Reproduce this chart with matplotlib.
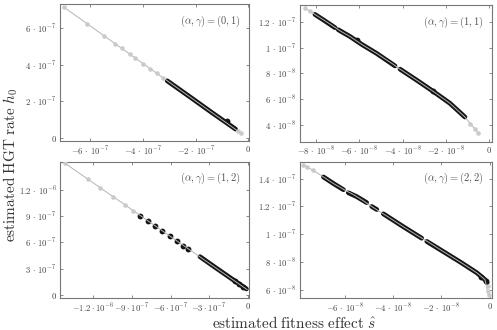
import numpy as np
import matplotlib.pyplot as plt

plt.rcParams['mathtext.fontset'] = 'cm'
nan = np.nan

# --- (alpha, gamma) = (0, 1), values in units of 1e-7
p1_line_s = [-6.99, -0.30]
p1_line_h = [7.11, 0.29]
p1_gray_s = [-6.99, -6.10, -5.47, -5.05, -4.80, -4.48, -4.29, -3.98, -3.72, -3.47, -3.22, -0.38, -0.30]
p1_gray_h = [7.11, 6.20, 5.56, 5.13, 4.88, 4.55, 4.36, 4.04, 3.78, 3.52, 3.27, 0.37, 0.29]
p1_black_s = [-3.08, -2.20, -1.40, -0.49]
p1_black_h = [3.12, 2.23, 1.41, 0.50]
p1_blob_s = [-0.80]
p1_blob_h = [0.95]

# --- (alpha, gamma) = (1, 1), units of 1e-8
p2_line_s = [-8.51, -8.05, -7.35, -6.89, -6.43, -5.89, -5.20, -4.43, -4.12, -3.35, -2.58, -1.81, -1.12, -0.50]
p2_line_h = [13.05, 12.57, 11.82, 11.30, 10.86, 10.25, 9.55, 8.70, 8.33, 7.48, 6.60, 5.68, 4.62, 3.36]
p2_gray_s = [-8.51, -8.30, -0.90, -0.67, -0.50]
p2_gray_h = [13.05, 12.84, 4.05, 3.67, 3.36]
p2_black_s = [-8.05, -7.60, -7.12, nan, -6.97, -6.43, -5.89, -5.20, -4.70, -4.35, nan, -4.12, -3.35, -2.58, -1.81, -1.12]
p2_black_h = [12.57, 12.08, 11.54, nan, 11.38, 10.86, 10.25, 9.55, 8.98, 8.58, nan, 8.33, 7.48, 6.60, 5.68, 4.62]
p2_blob_s = [-6.12, -2.61]
p2_blob_h = [10.60, 6.62]

# --- (alpha, gamma) = (1, 2), units of 1e-7
p3_line_s = [-14.20, -0.05]
p3_line_h = [15.05, 0.62]
p3_gray_s = [-14.20, -12.39, -11.48, -10.45, -9.54, -8.89]
p3_gray_h = [15.05, 13.20, 12.28, 11.23, 10.30, 9.63]
p3_black_s = [-3.71, -2.50, -1.20, -0.10]
p3_black_h = [4.38, 3.13, 1.81, 0.70]
p3_blob_s = [-8.37, -7.73, -7.20, -6.64, -6.04, -5.52, -5.00, -4.62, -0.95, -0.65, -0.35]
p3_blob_h = [9.02, 8.41, 7.86, 7.32, 6.73, 6.18, 5.60, 5.21, 1.55, 1.22, 0.92]

# --- (alpha, gamma) = (2, 2), units of 1e-8
p4_line_s = [-7.71, -7.30, -6.81, -6.47, -5.98, -5.64, -5.29, -4.81, -4.40, -3.98, -3.57, -3.01, -2.53, -1.91, -1.22, -0.53, -0.19, -0.05]
p4_line_h = [15.01, 14.60, 14.05, 13.66, 13.17, 12.86, 12.48, 11.92, 11.47, 11.00, 10.54, 9.93, 9.43, 8.74, 8.00, 7.22, 6.72, 5.64]
p4_gray_s = [-7.71, -7.55, -7.30, -0.05, -0.05, -0.01]
p4_gray_h = [15.01, 14.85, 14.60, 6.25, 5.88, 5.59]
p4_black_s = [-6.88, -6.47, -6.05, nan, -5.85, -5.50, -5.09, nan, -4.88, -4.67, nan,
              -4.40, -3.98, -3.57, -3.01, -2.81, nan, -2.60, -1.91, -1.22, -0.53, -0.19, -0.10]
p4_black_h = [14.13, 13.66, 13.21, nan, 12.99, 12.71, 12.28, nan, 12.00, 11.78, nan,
              11.47, 11.00, 10.54, 9.93, 9.71, nan, 9.48, 8.74, 8.00, 7.22, 6.72, 6.50]
p4_blob_s = [-0.35, -0.15]
p4_blob_h = [6.95, 6.60]

# tick values and labels
p1_xticks = [-6e-7, -4e-7, -2e-7, 0]
p1_xlabels = [r'$-6\,\cdot\,10^{-7}$', r'$-4\,\cdot\,10^{-7}$', r'$-2\,\cdot\,10^{-7}$', r'$0$']
p1_yticks = [0, 2e-7, 4e-7, 6e-7]
p1_ylabels = [r'$0$', r'$2\,\cdot\,10^{-7}$', r'$4\,\cdot\,10^{-7}$', r'$6\,\cdot\,10^{-7}$']
p2_xticks = [-8e-8, -6e-8, -4e-8, -2e-8, 0]
p2_xlabels = [r'$-8\,\cdot\,10^{-8}$', r'$-6\,\cdot\,10^{-8}$', r'$-4\,\cdot\,10^{-8}$', r'$-2\,\cdot\,10^{-8}$', r'$0$']
p2_yticks = [4e-8, 6e-8, 8e-8, 1e-7, 1.2e-7]
p2_ylabels = [r'$4\,\cdot\,10^{-8}$', r'$6\,\cdot\,10^{-8}$', r'$8\,\cdot\,10^{-8}$', r'$1\,\cdot\,10^{-7}$', r'$1.2\,\cdot\,10^{-7}$']
p3_xticks = [-1.2e-6, -9e-7, -6e-7, -3e-7, 0]
p3_xlabels = [r'$-1.2\cdot10^{-6}$', r'$-9\cdot10^{-7}$', r'$-6\cdot10^{-7}$', r'$-3\cdot10^{-7}$', r'$0$']
p3_yticks = [0, 3e-7, 6e-7, 9e-7, 1.2e-6]
p3_ylabels = [r'$0$', r'$3\,\cdot\,10^{-7}$', r'$6\,\cdot\,10^{-7}$', r'$9\,\cdot\,10^{-7}$', r'$1.2\,\cdot\,10^{-6}$']
p4_xticks = [-6e-8, -4e-8, -2e-8, 0]
p4_xlabels = [r'$-6\,\cdot\,10^{-8}$', r'$-4\,\cdot\,10^{-8}$', r'$-2\,\cdot\,10^{-8}$', r'$0$']
p4_yticks = [6e-8, 8e-8, 1e-7, 1.2e-7, 1.4e-7]
p4_ylabels = [r'$6\,\cdot\,10^{-8}$', r'$8\,\cdot\,10^{-8}$', r'$1\,\cdot\,10^{-7}$', r'$1.2\,\cdot\,10^{-7}$', r'$1.4\,\cdot\,10^{-7}$']

titles = [r'$(\alpha,\gamma) = (0,1)$', r'$(\alpha,\gamma) = (1,1)$',
          r'$(\alpha,\gamma) = (1,2)$', r'$(\alpha,\gamma) = (2,2)$']

W, H = 497, 330
fig = plt.figure(figsize=(W / 100, H / 100), dpi=100)

# pixel boxes: left, top, right, bottom
boxes = [(60, 4.3, 249, 141), (300, 5, 492, 141.7), (60, 161.7, 249, 298), (300, 161.7, 492, 298)]
limits = [((-7.14e-7, 0.02e-7), (-0.146e-7, 7.27e-7)),
          ((-8.74e-8, 0.13e-8), (2.71e-8, 13.30e-8)),
          ((-14.59e-7, 0.10e-7), (-0.34e-7, 15.23e-7)),
          ((-7.85e-8, 0.10e-8), (5.40e-8, 15.23e-8))]

panels = [
    (1e-7, p1_line_s, p1_line_h, p1_gray_s, p1_gray_h, p1_black_s, p1_black_h, p1_blob_s, p1_blob_h,
     p1_xticks, p1_xlabels, p1_yticks, p1_ylabels),
    (1e-8, p2_line_s, p2_line_h, p2_gray_s, p2_gray_h, p2_black_s, p2_black_h, p2_blob_s, p2_blob_h,
     p2_xticks, p2_xlabels, p2_yticks, p2_ylabels),
    (1e-7, p3_line_s, p3_line_h, p3_gray_s, p3_gray_h, p3_black_s, p3_black_h, p3_blob_s, p3_blob_h,
     p3_xticks, p3_xlabels, p3_yticks, p3_ylabels),
    (1e-8, p4_line_s, p4_line_h, p4_gray_s, p4_gray_h, p4_black_s, p4_black_h, p4_blob_s, p4_blob_h,
     p4_xticks, p4_xlabels, p4_yticks, p4_ylabels),
]

for i, (unit, ls, lh, gs, gh, bs, bh, os_, oh, xt, xl, yt, yl) in enumerate(panels):
    l, t, r, b = boxes[i]
    ax = fig.add_axes([l / W, 1 - b / H, (r - l) / W, (b - t) / H])
    u = lambda v: np.array(v, dtype=float) * unit

    # simulated estimates (black), theory curve (grey) on top
    ax.plot(u(bs), u(bh), color='#141414', lw=3.4, solid_capstyle='round', zorder=2)
    ax.plot(u(os_), u(oh), 'o', color='#141414', ms=4.2, mec='none', zorder=2)
    ax.plot(u(ls), u(lh), color='#b4b4b4', lw=0.7, zorder=3)
    ax.plot(u(gs), u(gh), 'o', color='#cacaca', ms=3.3, mec='none', zorder=4)

    ax.set_xlim(*limits[i][0])
    ax.set_ylim(*limits[i][1])
    ax.set_xticks(xt, xl)
    ax.set_yticks(yt, yl)
    ax.tick_params(direction='in', length=2.5, width=0.6, color='#777777', labelcolor='#444444',
                   labelsize=6.3, pad=2.5, top=True, right=True)
    for sp in ax.spines.values():
        sp.set_color('#777777')
        sp.set_linewidth(0.8)
    ax.text(0.955, 0.875, titles[i], transform=ax.transAxes, ha='right', va='center',
            fontsize=7.5, color='#555555')

fig.text(0.022, 0.5, r'$\mathrm{estimated\ HGT\ rate}\ h_0$', rotation=90, ha='center', va='center',
         fontsize=11, color='#333333')
fig.text(0.593, 0.022, r'$\mathrm{estimated\ fitness\ effect}\ \hat{s}$', ha='center', va='center',
         fontsize=11, color='#333333')

fig.savefig('out.png', dpi=100)
